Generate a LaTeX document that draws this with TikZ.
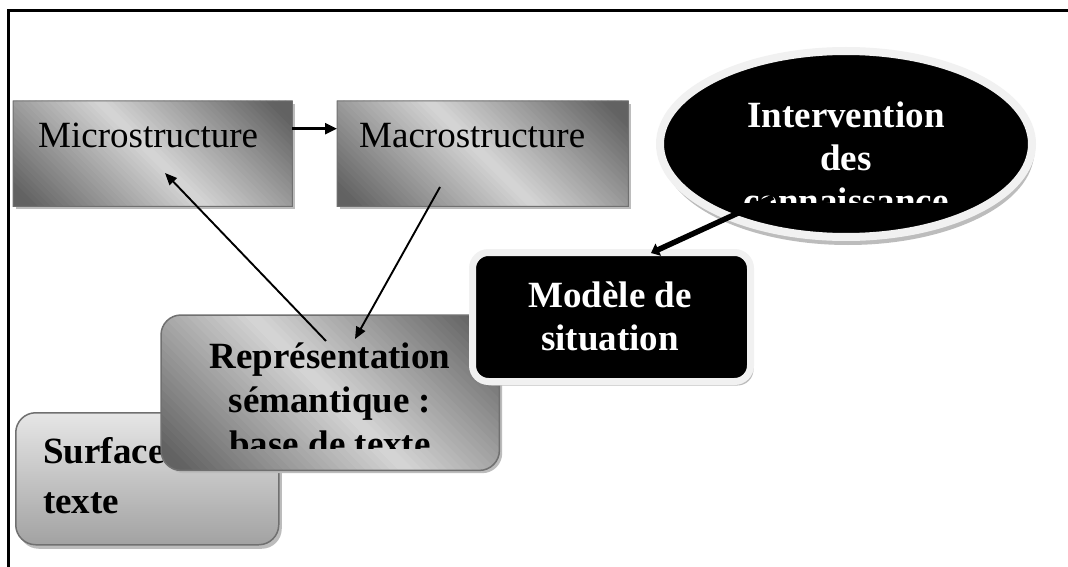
\documentclass[tikz,border=0pt]{standalone}
\usepackage{fontspec}
\setmainfont{Liberation Serif}
\usetikzlibrary{shapes.geometric,shadows,arrows.meta}
\definecolor{dkg}{RGB}{98,98,98}
\definecolor{ltg}{RGB}{214,214,214}
\definecolor{rimg}{RGB}{241,241,241}
\definecolor{shg}{RGB}{188,188,188}
\definecolor{edgeg}{RGB}{112,112,112}
\definecolor{surftop}{RGB}{230,230,230}
\definecolor{surfbot}{RGB}{162,162,162}
\newcommand{\diagstrips}[4]{% #1 node, #2 half span, #3 corner radius, #4 border width
  \begin{scope}
    \clip[rounded corners=#3] (#1.north west) rectangle (#1.south east);
    \begin{scope}[shift={(#1.center)}]
    \foreach \i in {0,...,59}{
      \pgfmathsetmacro{\sa}{-#2+#2*(\i/30)-0.8}
      \pgfmathsetmacro{\sb}{-#2+#2*((\i+1)/30)+0.8}
      \pgfmathsetmacro{\gv}{min(100,abs((\i+0.5)/30-1)*112)}
      \pgfmathsetmacro{\axa}{(\sa)/2+400}
      \pgfmathsetmacro{\aya}{400-(\sa)/2}
      \pgfmathsetmacro{\axb}{(\sa)/2-400}
      \pgfmathsetmacro{\ayb}{-400-(\sa)/2}
      \pgfmathsetmacro{\bxa}{(\sb)/2+400}
      \pgfmathsetmacro{\bya}{400-(\sb)/2}
      \pgfmathsetmacro{\bxb}{(\sb)/2-400}
      \pgfmathsetmacro{\byb}{-400-(\sb)/2}
      \fill[dkg!\gv!ltg] (\axa,\aya) -- (\axb,\ayb) -- (\bxb,\byb) -- (\bxa,\bya) -- cycle;
    }
    \end{scope}
  \end{scope}
  \draw[edgeg, line width=#4, rounded corners=#3] (#1.north west) rectangle (#1.south east);
}
\begin{document}
\begin{tikzpicture}[x=1pt,y=-1pt,
  graybox/.style={fill=ltg, drop shadow={shadow xshift=3pt, shadow yshift=-3pt, fill=shg, opacity=1},
    inner sep=0pt, anchor=north west},
  blackbox/.style={draw=rimg, line width=7pt, fill=black,
    drop shadow={shadow xshift=3pt, shadow yshift=-4pt, fill=shg, opacity=1}, inner sep=0pt},
  txt/.style={font=\fontsize{37}{43}\selectfont, inner sep=0pt, anchor=base},
  btxt/.style={txt, font=\fontsize{37}{43}\selectfont\bfseries},
  wtxt/.style={btxt, text=white},
  arr/.style={line width=1.9pt, -{Triangle[length=12pt,width=10pt]}},
  harr/.style={line width=2.6pt, -{Triangle[length=12pt,width=11pt]}},
  thickarr/.style={line width=5.5pt, -{Triangle[length=8pt,width=13pt]}}
]
\useasboundingbox (0,0) rectangle (1068,567);
\fill[white] (0,0) rectangle (1068,567);
% frame
\draw[line width=3pt] (8,567) -- (8,11) -- (1068,11);

% top boxes
\node[graybox, minimum width=279pt, minimum height=105pt] (micro) at (13,101) {};
\diagstrips{micro}{192}{0.01pt}{1pt}
\node[graybox, minimum width=291pt, minimum height=105pt] (macro) at (337,101) {};
\diagstrips{macro}{198}{0.01pt}{1pt}
\node[txt, anchor=base west] (microt) at (38,147) {Microstructure};
\node[txt, anchor=base west] (macrot) at (359,147) {Macrostructure};
\draw[harr] ([yshift=25pt]micro.east) -- ([yshift=25pt]macro.west);

% bottom boxes
\node[draw=edgeg, line width=1.5pt, top color=surftop, bottom color=surfbot, rounded corners=20pt,
  drop shadow={shadow xshift=3pt, shadow yshift=-4pt, fill=shg, opacity=1},
  inner sep=0pt, anchor=north west, minimum width=263pt, minimum height=132pt] (surf) at (15,412) {};
\node[btxt, anchor=base west] (surft1) at (43,463) {Surface};
\node[btxt, anchor=base west] (surft2) at (43,513) {texte};

\node[graybox, rounded corners=20pt, minimum width=338pt, minimum height=155pt] (rep) at (161,315) {};
\diagstrips{rep}{246.5}{20pt}{1.5pt}
\node[btxt] (rept1) at (330,368) {Représentation};
\node[btxt] (rept2) at (330,412) {sémantique :};
\begin{scope}
  \clip (161,300) rectangle (499,448);
  \node[btxt] (rept3) at (330,456) {base de texte};
\end{scope}

% Modele de situation
\node[blackbox, rounded corners=16pt, minimum width=278pt, minimum height=129pt] (model) at (611.5,317) {};
\node[wtxt] (modt1) at (610,307) {Modèle de};
\node[wtxt] (modt2) at (610,350) {situation};

% ellipse
\node[blackbox, ellipse, line width=8pt, minimum width=372pt, minimum height=186pt,
  drop shadow={shadow xshift=2pt, shadow yshift=-8pt, fill=shg, opacity=1}] (interv) at (846,144) {};
\node[wtxt] (intt1) at (846,128) {Intervention};
\node[wtxt] (intt2) at (846,170) {des};
\begin{scope}
  \clip (640,150) rectangle (1050,202);
  \node[wtxt] (intt3) at (846,213) {connaissance};
\end{scope}

% connectors
\coordinate (r1) at (326,341);
\coordinate (m1) at (165,173);
\coordinate (m2) at (440,187);
\coordinate (r2) at (355,339);
\coordinate (e1) at (773,197);
\coordinate (s1) at (651,253);
\draw[arr] (r1) -- (m1);
\draw[arr] (m2) -- (r2);
\draw[thickarr] (e1) -- (s1);
\end{tikzpicture}
\end{document}
